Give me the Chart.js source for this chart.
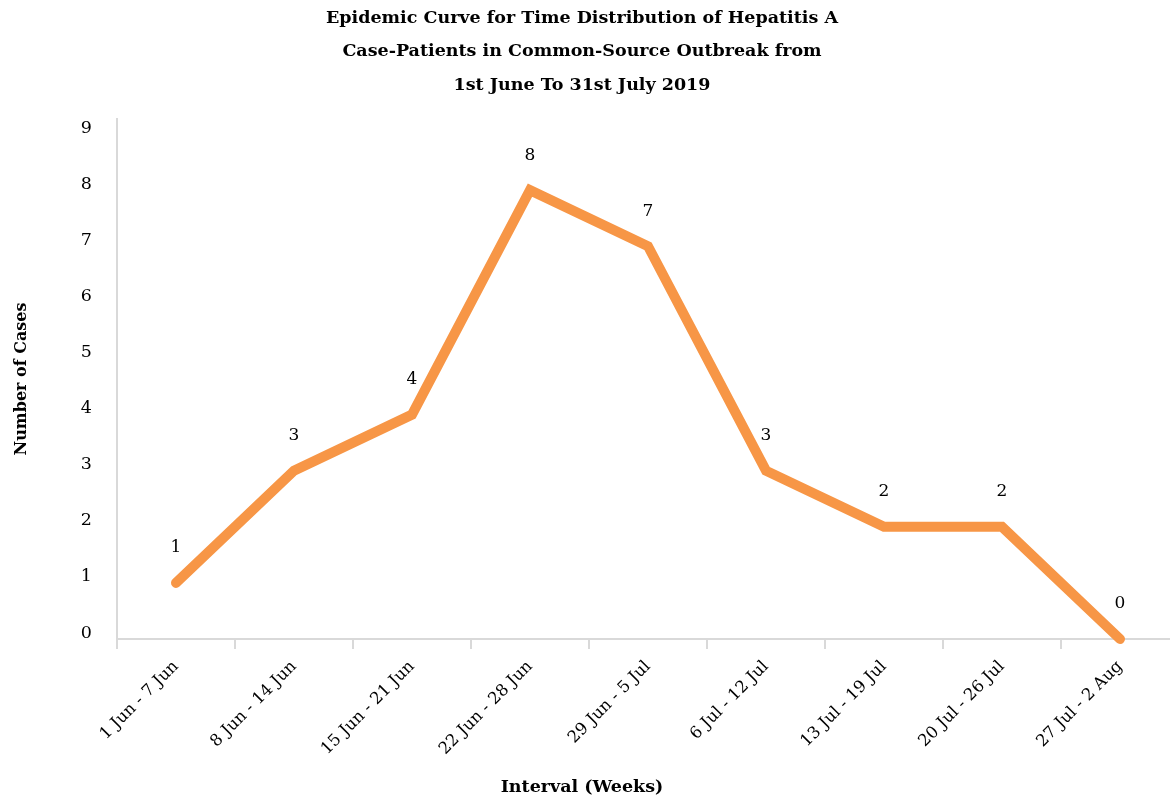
<!DOCTYPE html>
<html>
<head>
<meta charset="utf-8">
<script src="https://cdn.jsdelivr.net/npm/chart.js@4.4.1/dist/chart.umd.min.js"></script>
<style>
  html, body { margin: 0; padding: 0; background: #fff; overflow: hidden; width: 1170px; height: 798px; }
  #wrap { position: absolute; left: -15px; top: 0; width: 1194px; height: 798px; }
</style>
</head>
<body>
<div id="wrap"><canvas id="curve" width="1194" height="798"></canvas></div>
<script>
// Weekly intervals and the number of hepatitis A cases in each
const weeks = [
  '1 Jun - 7 Jun', '8 Jun - 14 Jun', '15 Jun - 21 Jun', '22 Jun - 28 Jun',
  '29 Jun - 5 Jul', '6 Jul - 12 Jul', '13 Jul - 19 Jul', '20 Jul - 26 Jul',
  '27 Jul - 2 Aug'
];
const cases = [1, 3, 4, 8, 7, 3, 2, 2, 0];
const caseTicks = [0, 1, 2, 3, 4, 5, 6, 7, 8, 9];

const chartTitle = [
  'Epidemic Curve for Time Distribution of Hepatitis A',
  'Case-Patients in Common-Source Outbreak from',
  '1st June To 31st July 2019'
];
const yAxisTitle = 'Number of Cases';
const xAxisTitle = 'Interval (Weeks)';

const SERIF = '"DejaVu Serif", "Liberation Serif", serif';
const AXIS_GREY = '#d9d9d9';

Chart.defaults.font.family = SERIF;
Chart.defaults.color = '#000';

// Writes each week's count above its point on the curve
const valueLabels = {
  id: 'valueLabels',
  afterDatasetsDraw(chart) {
    const { ctx } = chart;
    const meta = chart.getDatasetMeta(0);
    const values = chart.data.datasets[0].data;
    ctx.save();
    ctx.font = '17px ' + SERIF;
    ctx.fillStyle = '#000';
    ctx.textAlign = 'center';
    ctx.textBaseline = 'middle';
    meta.data.forEach((pt, i) => {
      ctx.fillText(String(values[i]), pt.x, pt.y - 35);
    });
    ctx.restore();
  }
};

new Chart(document.getElementById('curve'), {
  type: 'line',
  data: {
    labels: weeks,
    datasets: [{
      data: cases,
      borderColor: '#f79646',
      backgroundColor: '#f79646',
      borderWidth: 10,
      borderCapStyle: 'round',
      borderJoinStyle: 'miter',
      pointRadius: 0,
      pointHoverRadius: 0,
      tension: 0,
      fill: false,
      clip: false
    }]
  },
  options: {
    responsive: false,
    animation: false,
    devicePixelRatio: 1,
    layout: { padding: 0 },
    plugins: {
      legend: { display: false },
      tooltip: { enabled: false },
      title: {
        display: true,
        text: chartTitle,
        color: '#000',
        font: { size: 17.5, weight: 'bold', lineHeight: 33.3 / 17.5 },
        padding: { top: 2, bottom: 17 }
      },
      subtitle: {
        display: true,
        position: 'bottom',
        text: xAxisTitle,
        color: '#000',
        font: { size: 17.5, weight: 'bold', lineHeight: 22 / 17.5 },
        padding: { top: 0, bottom: 0 }
      }
    },
    scales: {
      x: {
        type: 'category',
        offset: true,
        grid: {
          display: true,
          drawOnChartArea: false,
          drawTicks: true,
          tickLength: 10,
          color: AXIS_GREY,
          lineWidth: 2,
          offset: true
        },
        border: { display: true, color: AXIS_GREY, width: 2 },
        ticks: {
          autoSkip: false,
          minRotation: 45,
          maxRotation: 45,
          padding: 8,
          color: '#000',
          font: { size: 16.5 }
        },
        afterFit(scale) { scale.height = 137; }
      },
      y: {
        min: 0,
        max: 9.27,
        grid: { display: true, drawOnChartArea: false, drawTicks: false },
        border: { display: true, color: AXIS_GREY, width: 2 },
        ticks: {
          padding: 25,
          labelOffset: -6,
          color: '#000',
          font: { size: 17.5 }
        },
        afterBuildTicks(scale) {
          scale.ticks = caseTicks.map(v => ({ value: v }));
        },
        title: {
          display: true,
          text: yAxisTitle,
          color: '#000',
          font: { size: 16, weight: 'bold' },
          padding: { top: 27, bottom: 0 }
        },
        afterFit(scale) { scale.width = 132; }
      }
    }
  },
  plugins: [valueLabels]
});
</script>
</body>
</html>
